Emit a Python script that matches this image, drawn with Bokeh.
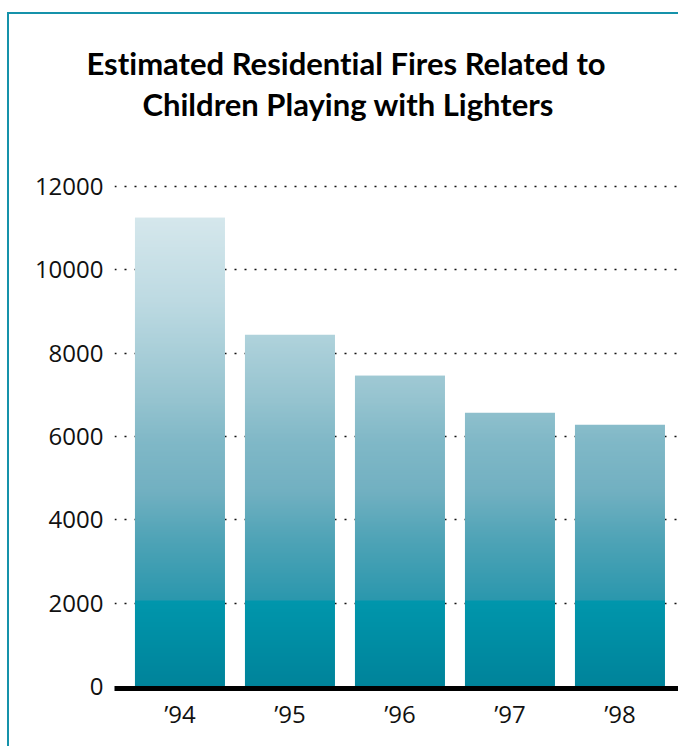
from bokeh.plotting import figure
from bokeh.models import Range1d, FixedTicker, ColumnDataSource, Title
from bokeh.embed import file_html
from bokeh.resources import INLINE

# ---- data ----
years = ["\u201994", "\u201995", "\u201996", "\u201997", "\u201998"]
fires = [11250, 8440, 7460, 6570, 6280]
y_ticks = [0, 2000, 4000, 6000, 8000, 10000, 12000]
title_lines = ["Estimated Residential Fires Related to", "Children Playing with Lighters"]

# ---- style: vertical colour ramp (value -> colour) ----
stops = [(0, "#00839a"), (2040, "#0096ac"), (2060, "#2a97ad"), (3500, "#4ea3b6"),
         (4700, "#72b0c1"), (5900, "#80b8c7"), (6860, "#95c3cf"), (9260, "#bddae2"),
         (11250, "#d5e7ec"), (12000, "#dcecf0")]


def hex2rgb(h):
    h = h.lstrip("#")
    return tuple(int(h[i:i + 2], 16) for i in (0, 2, 4))


def ramp(v):
    for (v0, c0), (v1, c1) in zip(stops[:-1], stops[1:]):
        if v <= v1:
            t = (v - v0) / (v1 - v0) if v1 > v0 else 0
            a, b = hex2rgb(c0), hex2rgb(c1)
            return "#%02x%02x%02x" % tuple(round(a[k] + (b[k] - a[k]) * t) for k in range(3))
    return stops[-1][1]


band = 48
seg = dict(x=[], bottom=[], top=[], color=[])
for i, v in enumerate(fires):
    b = 0
    while b < v:
        t = min(b + band, v)
        seg["x"].append(i)
        seg["bottom"].append(b)
        seg["top"].append(min(t + band * 0.5, v))
        seg["color"].append(ramp((b + t) / 2))
        b = t
src = ColumnDataSource(seg)

xs = list(range(len(years)))

p = figure(width=671, height=734,
           x_range=Range1d(-0.595, -0.595 + 566 / 110),
           y_range=Range1d(-48, 12096),
           output_backend="svg", toolbar_location=None,
           min_border_left=105, min_border_right=0,
           min_border_top=168, min_border_bottom=60)
p.styles = {"border-left": "2px solid #1592aa", "border-top": "2px solid #1592aa",
            "margin-left": "7px", "margin-top": "12px"}
p.stylesheets = [":host, * { font-variant-ligatures: none !important; "
                 "font-feature-settings: 'liga' 0, 'clig' 0 !important; }"]
p.outline_line_color = None
p.background_fill_color = "white"
p.border_fill_color = "white"

p.vbar(x="x", bottom="bottom", top="top", width=90 / 110, fill_color="color",
       line_color=None, source=src)

# axes
p.xaxis.ticker = FixedTicker(ticks=xs)
p.xaxis.major_label_overrides = {i: lab for i, lab in zip(xs, years)}
p.xaxis.axis_line_width = 5
p.xaxis.axis_line_color = "black"
p.xaxis.major_tick_line_color = None
p.xaxis.minor_tick_line_color = None
p.xaxis.major_tick_out = 0
p.xaxis.major_label_standoff = 8
p.xaxis.major_label_text_font = "Open Sans"
p.xaxis.major_label_text_font_size = "24px"
p.xaxis.major_label_text_color = "#111111"

p.yaxis.ticker = FixedTicker(ticks=y_ticks)
p.yaxis.axis_line_color = None
p.yaxis.major_tick_line_color = None
p.yaxis.minor_tick_line_color = None
p.yaxis.major_tick_out = 0
p.yaxis.major_label_standoff = 11
p.yaxis.major_label_text_font = "Open Sans"
p.yaxis.major_label_text_font_size = "24px"
p.yaxis.major_label_text_color = "#111111"
p.yaxis.formatter.use_scientific = False

p.xgrid.grid_line_color = None
p.ygrid.ticker = FixedTicker(ticks=y_ticks[1:])
p.ygrid.grid_line_color = "#111111"
p.ygrid.grid_line_width = 1.7
p.ygrid.grid_line_dash = "2 8"

# spacer between frame and title block
p.add_layout(Title(text=" ", text_font_size="10px", standoff=46), "above")
# title: two lines, second added first (closest to the frame)
offsets = [-28, 28]
for k in (1, 0):
    p.add_layout(Title(text=title_lines[k], align="left", offset=offsets[k],
                       text_font="Lato", text_font_style="bold",
                       text_font_size="31px", text_color="black",
                       standoff=1), "above")

open("out.html", "w").write(file_html(p, INLINE))
